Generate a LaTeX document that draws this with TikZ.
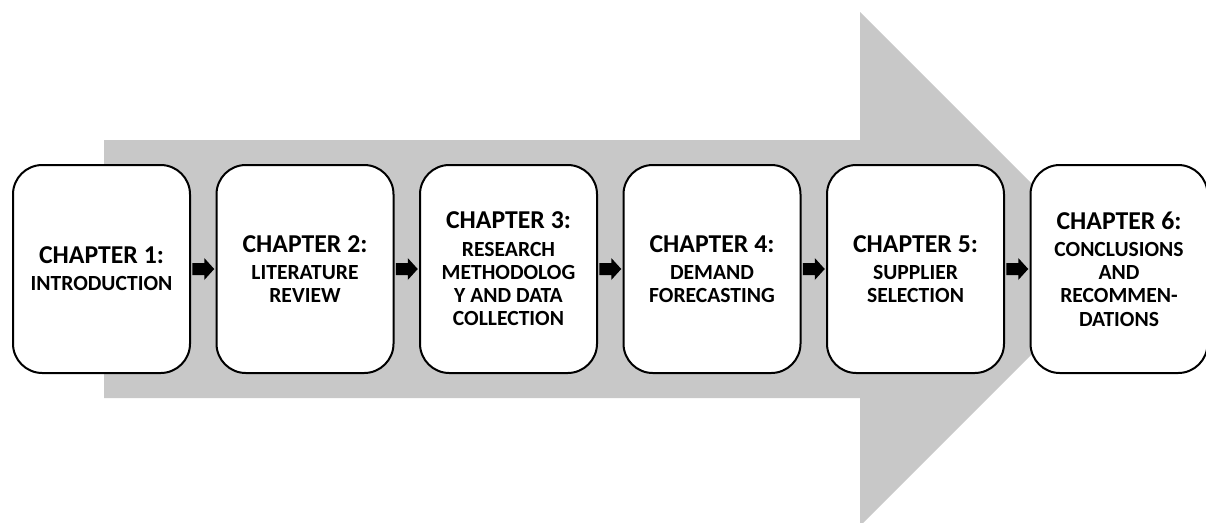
\documentclass[tikz,border=0pt]{standalone}
\usepackage{fontspec}
\setmainfont{Carlito}
\usetikzlibrary{calc}
\definecolor{flowgray}{RGB}{200,200,200}
\newcommand{\chapfont}{\fontsize{19.3}{22}\selectfont\bfseries}
\newcommand{\subfont}{\fontsize{16.2}{17.4}\selectfont\bfseries}
\begin{document}
\begin{tikzpicture}[x=0.75pt,y=-0.75pt,
 chapbox/.style={draw=black,line width=1.5pt,fill=white,rounded corners=22pt,
  minimum width=132.75pt,minimum height=156pt,inner sep=0pt,align=center,font=\subfont}]
 \useasboundingbox (0,0) rectangle (1206,522);
 \clip (0,0) rectangle (1206,522);
 \fill[flowgray](104,140)--(860,140)--(860,12)--(1117,269)--(860,526)--(860,398)--(104,398)--cycle;
 \node[chapbox] (ch1) at (101.5,269) {{\chapfont CHAPTER 1:}\\[3pt]INTRODUCTION};
 \node[chapbox] (ch2) at (305,269) {{\chapfont CHAPTER 2:}\\[3pt]LITERATURE\\REVIEW};
 \node[chapbox] (ch3) at (508.5,269) {{\chapfont CHAPTER 3:}\\[3pt]RESEARCH\\METHODOLOG\\Y AND DATA\\COLLECTION};
 \node[chapbox] (ch4) at (712,269) {{\chapfont CHAPTER 4:}\\[3pt]DEMAND\\FORECASTING};
 \node[chapbox] (ch5) at (915.5,269) {{\chapfont CHAPTER 5:}\\[3pt]SUPPLIER\\SELECTION};
 \node[chapbox] (ch6) at (1119,269) {{\chapfont CHAPTER 6:}\\[3pt]CONCLUSIONS\\AND\\RECOMMEN-\\DATIONS};
 \foreach \a/\b in {ch1/ch2,ch2/ch3,ch3/ch4,ch4/ch5,ch5/ch6}
  \fill ($(\a.east)!0.5!(\b.west)$) ++(-11,-6)--++(12,0)--++(0,-5)--++(10,11)--++(-10,11)--++(0,-5)--++(-12,0)--cycle;
\end{tikzpicture}
\end{document}
